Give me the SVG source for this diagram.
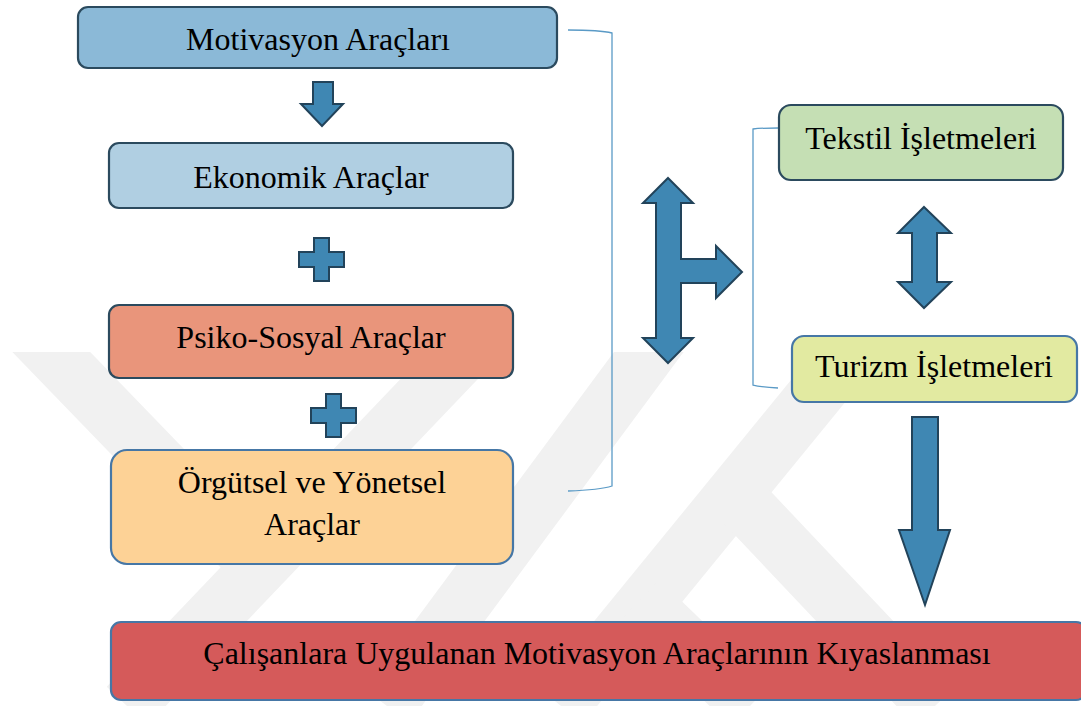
<svg xmlns="http://www.w3.org/2000/svg" width="1081" height="706" viewBox="0 0 1081 706">
<style>
.box{stroke:#2b4a5e;stroke-width:2.2}
.boxb{stroke:#4677a6;stroke-width:2.2}
.t{font-family:"Liberation Serif","Times New Roman",serif;font-size:32px;fill:#000;text-anchor:middle}
.arr{fill:#3f87b3;stroke:#22435a;stroke-width:2;stroke-linejoin:miter}
.br{fill:none;stroke:#5a9ac6;stroke-width:1.3}
.wm{fill:none;stroke:#f1f1f1;stroke-width:56;stroke-linecap:butt}
</style>
<defs><clipPath id="wc"><rect x="0" y="352" width="1081" height="354"/></clipPath></defs>
<rect width="1081" height="706" fill="#fff"/>
<g id="watermark" clip-path="url(#wc)">
<line class="wm" x1="30" y1="330" x2="262" y2="570"/>
<line class="wm" x1="486" y1="330" x2="127" y2="706"/>
<line class="wm" x1="665" y1="330" x2="387" y2="706"/>
<line class="wm" x1="850" y1="352" x2="561" y2="706"/>
<line class="wm" x1="745" y1="505" x2="935" y2="706"/>
<line class="wm" x1="640" y1="600" x2="750" y2="706"/>
</g>
<g id="connectors">
<path class="br" d="M568,30 Q600,30 612,33 L612,486 Q600,490 568,491"/>
<path class="br" d="M778,128 Q760,128 753,129 L753,385 Q760,387 778,388"/>
<path class="arr" d="M313,82 L333,82 L333,104 L343,104 L322,126 L301,104 L313,104 Z"/>
<path class="arr" d="M668,178 L693,203 L681,203 L681,259 L716,259 L716,246 L742,272 L716,298 L716,283 L681,283 L681,338 L693,338 L668,363 L643,338 L656,338 L656,203 L643,203 Z"/>
<path class="arr" d="M924,207 L951,233 L937,233 L937,282 L951,282 L924,308 L898,282 L912,282 L912,233 L898,233 Z"/>
<path class="arr" d="M912,417 L938,417 L938,530 L950,530 L925,605 L899,530 L912,530 Z"/>
<path class="arr" d="M314,238 L329,238 L329,252 L344,252 L344,267 L329,267 L329,281 L314,281 L314,267 L299,267 L299,252 L314,252 Z"/>
<path class="arr" d="M326,394 L341,394 L341,408 L356,408 L356,423 L341,423 L341,437 L326,437 L326,423 L311,423 L311,408 L326,408 Z"/>
</g>
<g id="n1"><rect class="box" x="78" y="7" width="479" height="61" rx="10" fill="#8bb9d7"/><text class="t" x="318" y="50">Motivasyon Araçları</text></g>
<g id="n2"><rect class="box" x="109" y="143" width="404" height="65" rx="10" fill="#b0cfe2"/><text class="t" x="311" y="188">Ekonomik Araçlar</text></g>
<g id="n3"><rect class="box" x="109" y="305" width="404" height="73" rx="10" fill="#e9957b"/><text class="t" x="311" y="348">Psiko-Sosyal Araçlar</text></g>
<g id="n4"><rect class="boxb" x="111" y="450" width="402" height="114" rx="16" fill="#fdd296"/><text class="t" x="312" y="493">Örgütsel ve Yönetsel</text><text class="t" x="312" y="535">Araçlar</text></g>
<g id="n5"><rect class="box" x="779" y="105" width="284" height="75" rx="12" fill="#c5dfb4"/><text class="t" x="921" y="149">Tekstil İşletmeleri</text></g>
<g id="n6"><rect class="boxb" x="792" y="336" width="285" height="66" rx="12" fill="#e2eaa1"/><text class="t" x="934" y="377">Turizm İşletmeleri</text></g>
<g id="n7"><rect class="boxb" x="111" y="622" width="975" height="78" rx="10" fill="#d55a5a"/><text class="t" x="597" y="664">Çalışanlara Uygulanan Motivasyon Araçlarının Kıyaslanması</text></g>
</svg>
